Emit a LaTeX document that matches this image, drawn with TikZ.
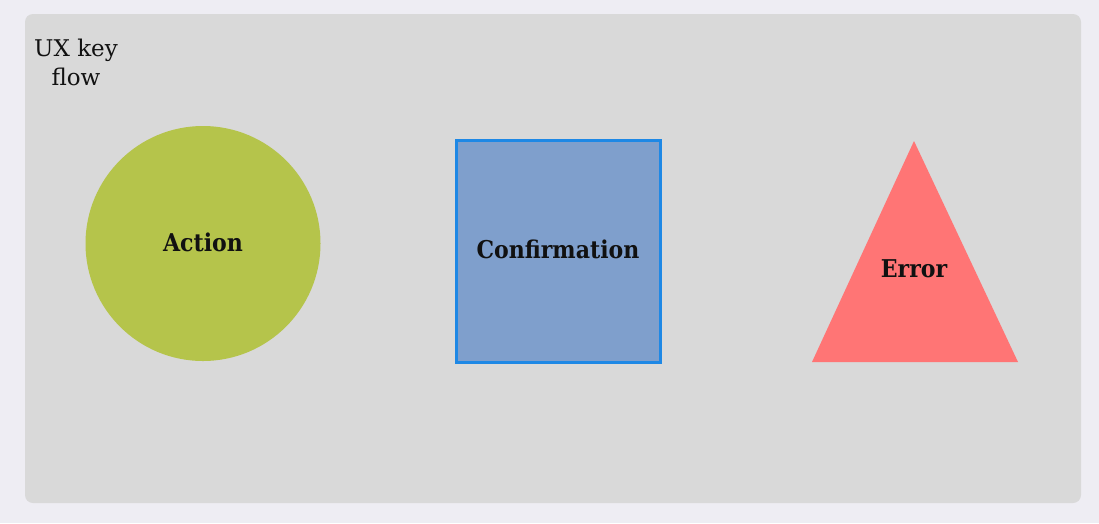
\documentclass[tikz,border=0pt]{standalone}
\usepackage{fontspec}
\setmainfont{DejaVu Serif}
\newfontfamily\labelfont{DejaVu Serif Condensed}
\usepackage{xcolor}
\definecolor{pagebg}{HTML}{EEEDF3}
\definecolor{panel}{HTML}{D9D9D9}
\definecolor{action}{HTML}{B5C44B}
\definecolor{confirm}{HTML}{7F9FCC}
\definecolor{confirmline}{HTML}{1E88E5}
\definecolor{error}{HTML}{FF7575}
\definecolor{ink}{HTML}{111111}
\usetikzlibrary{positioning,calc}

\begin{document}
\begin{tikzpicture}[
  x=1pt, y=-1pt,
  label/.style={font=\labelfont\bfseries\fontsize{24.5}{28}\selectfont, text=ink, align=center, inner sep=0pt},
  title/.style={font=\fontsize{23}{29}\selectfont, text=ink, align=center, inner sep=0pt}
]
\useasboundingbox (0,0) rectangle (1099,523);
\fill[pagebg] (0,0) rectangle (1099,523);
\fill[panel, rounded corners=8pt] (25,14) rectangle (1081,503);

\node[title] (ttl) at (76,62) {UX key\\flow};

\fill[action] (203,243.5) circle (117.5);
\node[label] (act) at (203,242) {Action};

\draw[confirmline, fill=confirm, line width=3pt] (456,140) rectangle (660,362);
\node[label] (conf) at (558,249) {Confirmation};

\coordinate (tri-top) at (914,141);
\coordinate (tri-left) at (812,362);
\coordinate (tri-right) at (1018,362);
\fill[error] (tri-top) -- (tri-right) -- (tri-left) -- cycle;
\node[label] (err) at (914,269) {Error};
\end{tikzpicture}
\end{document}
